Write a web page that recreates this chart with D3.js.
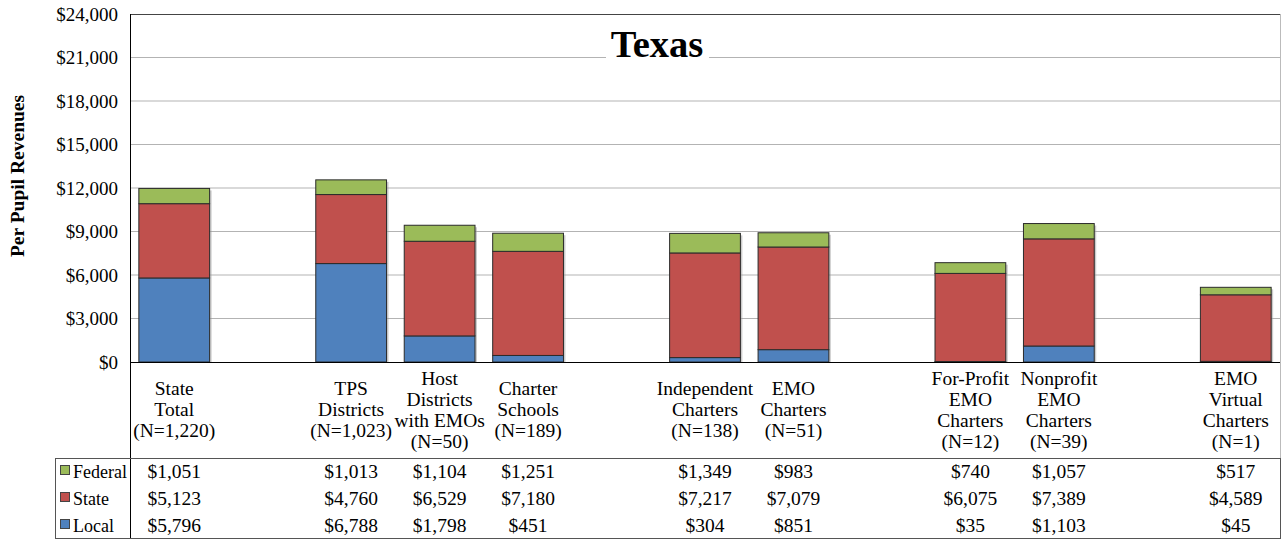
<!DOCTYPE html>
<html>
<head>
<meta charset="utf-8">
<script src="https://cdn.jsdelivr.net/npm/d3@7"></script>
<style>
  body { margin: 0; background: #fff; }
  svg { font-family: "Liberation Serif", "Times New Roman", serif; }
</style>
</head>
<body>
<div id="chart"></div>
<script>
// category labels (empty strings are the spacer slots in the chart)
const categories = [
  ["State", "Total", "(N=1,220)"],
  [],
  ["TPS", "Districts", "(N=1,023)"],
  ["Host", "Districts", "with EMOs", "(N=50)"],
  ["Charter", "Schools", "(N=189)"],
  [],
  ["Independent", "Charters", "(N=138)"],
  ["EMO", "Charters", "(N=51)"],
  [],
  ["For-Profit", "EMO", "Charters", "(N=12)"],
  ["Nonprofit", "EMO", "Charters", "(N=39)"],
  [],
  ["EMO", "Virtual", "Charters", "(N=1)"]
];
const local   = [5796, null, 6788, 1798, 451, null, 304, 851, null, 35, 1103, null, 45];
const state   = [5123, null, 4760, 6529, 7180, null, 7217, 7079, null, 6075, 7389, null, 4589];
const federal = [1051, null, 1013, 1104, 1251, null, 1349, 983, null, 740, 1057, null, 517];
const yTicks = [0, 3000, 6000, 9000, 12000, 15000, 18000, 21000, 24000];

const series = [
  {name: "Federal", values: federal, color: "#9BBB59"},
  {name: "State", values: state, color: "#C0504D"},
  {name: "Local", values: local, color: "#4F81BD"}
];

const W = 1281, H = 540;
const plot = {left: 130, right: 1280, top: 14, bottom: 362};
const tableTop = 458, rowH = 27;

const svg = d3.select("#chart").append("svg")
  .attr("width", W).attr("height", H);

const x = d3.scaleBand()
  .domain(d3.range(categories.length))
  .range([plot.left, plot.right])
  .paddingInner(0.2).paddingOuter(0.1);
const y = d3.scaleLinear().domain([0, 24000]).range([plot.bottom, plot.top]);
const fmt = v => "$" + d3.format(",")(v);

// gridlines
svg.append("g")
  .selectAll("line").data(yTicks.slice(1, -1)).join("line")
    .attr("x1", plot.left).attr("x2", plot.right)
    .attr("y1", d => y(d)).attr("y2", d => y(d))
    .attr("stroke", "#b3b3b3").attr("stroke-width", 1);

// plot border: top dark, right light
svg.append("line").attr("x1", plot.left).attr("x2", plot.right)
  .attr("y1", plot.top + 0.5).attr("y2", plot.top + 0.5).attr("stroke", "#444");
svg.append("line").attr("x1", plot.right + 0.5).attr("x2", plot.right + 0.5)
  .attr("y1", plot.top).attr("y2", H - 2).attr("stroke", "#bbb");

// y axis labels
const yAxis = svg.append("g")
  .attr("transform", `translate(${plot.left},0)`)
  .call(d3.axisLeft(y).tickValues(yTicks).tickFormat(fmt).tickSize(0).tickPadding(12));
yAxis.select(".domain").remove();
yAxis.selectAll("text")
  .attr("font-family", "Liberation Serif").attr("font-size", 19).attr("fill", "#000");

svg.append("text")
  .attr("transform", `translate(24,${(plot.top + plot.bottom) / 2 - 12}) rotate(-90)`)
  .attr("text-anchor", "middle")
  .attr("font-size", 19.5).attr("font-weight", "bold")
  .text("Per Pupil Revenues");

// title with white box over the gridline
const title = svg.append("g").attr("transform", "translate(657,57)");
title.append("rect").attr("x", -51).attr("y", -32).attr("width", 103).attr("height", 40).attr("fill", "#fff");
title.append("text").attr("text-anchor", "middle")
  .attr("font-size", 38.5).attr("font-weight", "bold").text("Texas");

// stacked bars (local bottom, then state, then federal)
const stackOrder = [series[2], series[1], series[0]];
const barData = [];
categories.forEach((c, i) => {
  if (local[i] == null) return;
  let base = 0;
  stackOrder.forEach(s => {
    barData.push({i, y0: base, y1: base + s.values[i], color: s.color});
    base += s.values[i];
  });
});

const bars = svg.append("g");
// soft shadow
bars.selectAll("rect.shadow")
  .data(categories.map((c, i) => i).filter(i => local[i] != null))
  .join("rect").attr("class", "shadow")
    .attr("x", i => x(i) + 2)
    .attr("y", i => y(local[i] + state[i] + federal[i]) + 2)
    .attr("width", x.bandwidth())
    .attr("height", i => y(0) - y(local[i] + state[i] + federal[i]) - 2)
    .attr("fill", "#999").attr("opacity", 0.5);
bars.selectAll("rect.seg").data(barData).join("rect").attr("class", "seg")
  .attr("x", d => x(d.i))
  .attr("y", d => y(d.y1))
  .attr("width", x.bandwidth())
  .attr("height", d => y(d.y0) - y(d.y1))
  .attr("fill", d => d.color)
  .attr("stroke", "#2b2b2b").attr("stroke-width", 1);

// baseline and left axis line down through the table
svg.append("line").attr("x1", plot.left).attr("x2", plot.right)
  .attr("y1", plot.bottom + 0.5).attr("y2", plot.bottom + 0.5).attr("stroke", "#000");
svg.append("line").attr("x1", plot.left + 0.5).attr("x2", plot.left + 0.5)
  .attr("y1", plot.top).attr("y2", H - 2).attr("stroke", "#000");

// category labels
const catG = svg.append("g").attr("font-size", 19.5).attr("text-anchor", "middle");
categories.forEach((lines, i) => {
  if (!lines.length) return;
  const cx = x(i) + x.bandwidth() / 2;
  const lh = 21;
  const startY = 410 - (lines.length - 1) * lh / 2 + 6;
  lines.forEach((t, k) => {
    catG.append("text").attr("x", cx).attr("y", startY + k * lh).text(t);
  });
});

// data table
svg.append("rect").attr("x", 55.5).attr("y", tableTop + 0.5)
  .attr("width", plot.right - 55).attr("height", H - 2 - tableTop)
  .attr("fill", "none").attr("stroke", "#555");

const rows = svg.append("g").selectAll("g").data(series).join("g")
  .attr("transform", (d, k) => `translate(0,${tableTop + 13 + k * rowH})`);
rows.append("rect").attr("x", 60.5).attr("y", -5.5).attr("width", 9).attr("height", 9)
  .attr("fill", d => d.color).attr("stroke", "#444");
rows.append("text").attr("x", 73).attr("y", 6.5)
  .attr("font-size", 18).text(d => d.name);
rows.each(function(s) {
  d3.select(this).selectAll("text.val")
    .data(s.values.map((v, i) => ({v, i})).filter(d => d.v != null))
    .join("text").attr("class", "val")
      .attr("x", d => x(d.i) + x.bandwidth() / 2)
      .attr("y", 6.5)
      .attr("text-anchor", "middle").attr("font-size", 19.5)
      .text(d => fmt(d.v));
});
</script>
</body>
</html>
